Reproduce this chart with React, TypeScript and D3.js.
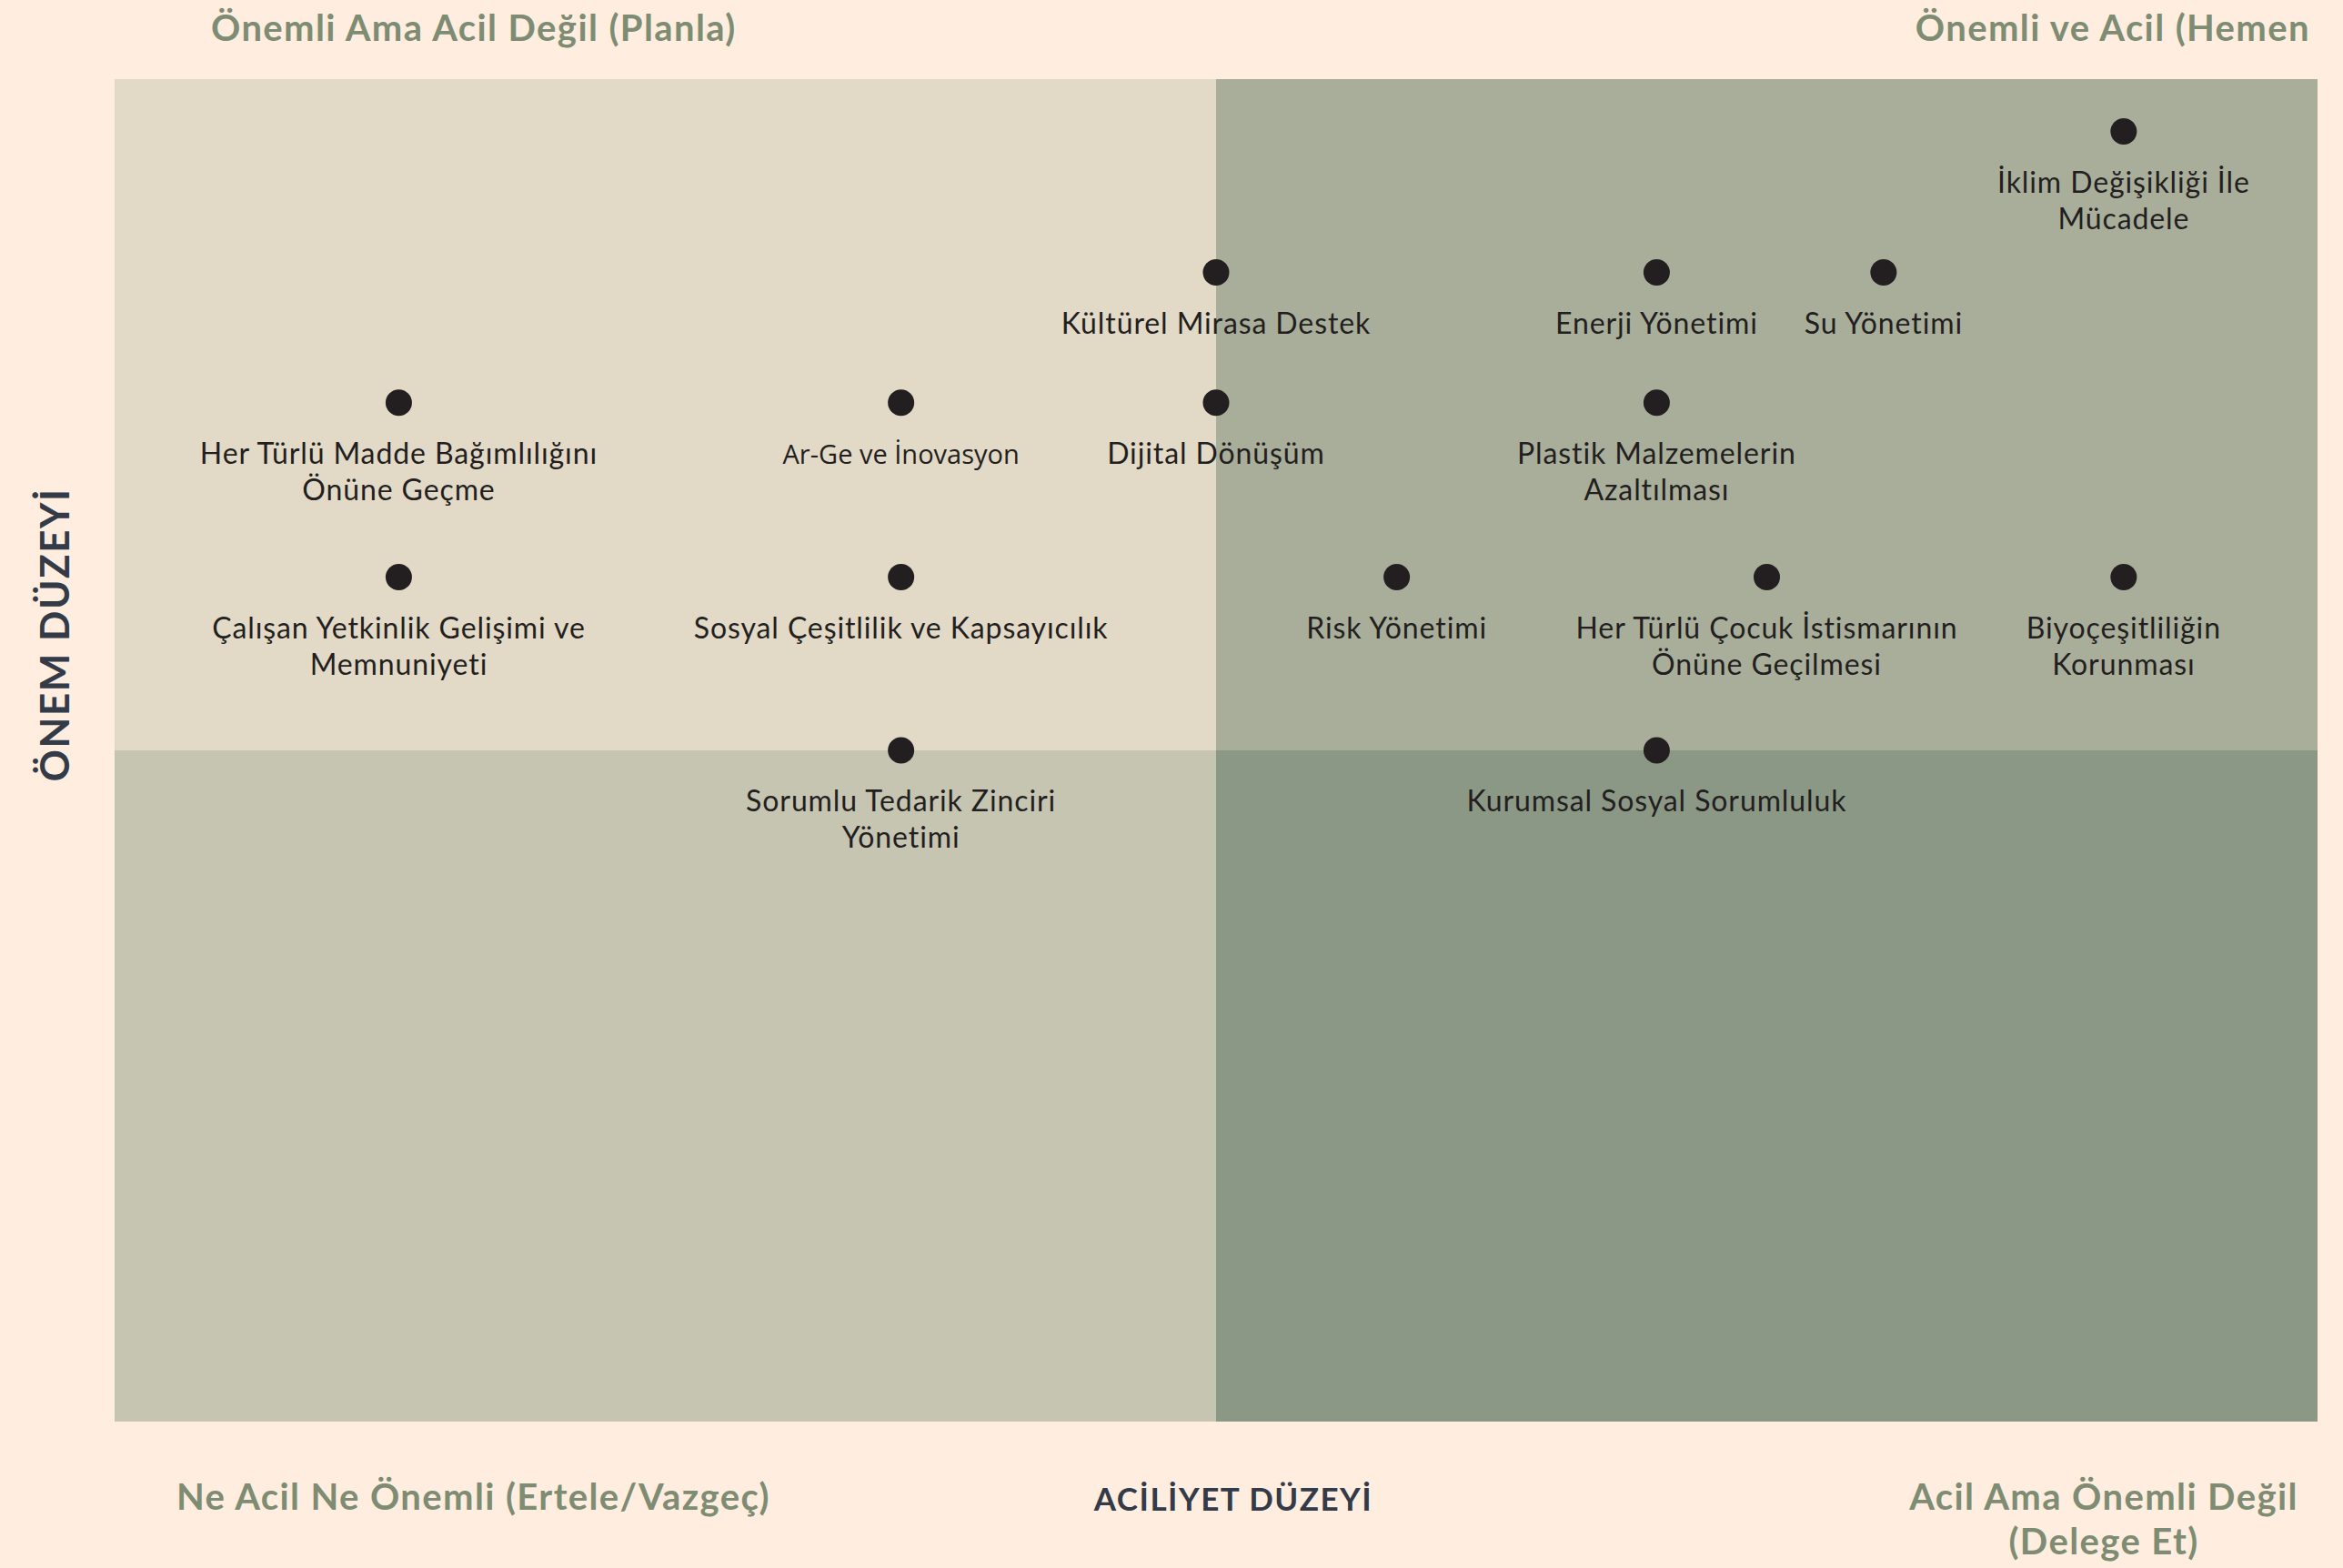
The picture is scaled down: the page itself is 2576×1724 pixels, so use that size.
import React, { useEffect, useRef } from "react";
import * as d3 from "d3";

// topic names (\n = line break), urgency (x) and importance (y) on a 0-10 scale
const topics = [
  "İklim Değişikliği İle\nMücadele",
  "Kültürel Mirasa Destek",
  "Enerji Yönetimi",
  "Su Yönetimi",
  "Her Türlü Madde Bağımlılığını\nÖnüne Geçme",
  "Ar-Ge ve İnovasyon",
  "Dijital Dönüşüm",
  "Plastik Malzemelerin\nAzaltılması",
  "Çalışan Yetkinlik Gelişimi ve\nMemnuniyeti",
  "Sosyal Çeşitlilik ve Kapsayıcılık",
  "Risk Yönetimi",
  "Her Türlü Çocuk İstismarının\nÖnüne Geçilmesi",
  "Biyoçeşitliliğin\nKorunması",
  "Sorumlu Tedarik Zinciri\nYönetimi",
  "Kurumsal Sosyal Sorumluluk",
];
const urgency = [9.12, 5.0, 7.0, 8.03, 1.29, 3.57, 5.0, 7.0, 1.29, 3.57, 5.82, 7.5, 9.12, 3.57, 7.0];
const importance = [9.61, 8.56, 8.56, 8.56, 7.59, 7.59, 7.59, 7.59, 6.29, 6.29, 6.29, 6.29, 6.29, 5.0, 5.0];

const quadrantTitles = {
  topLeft: "Önemli Ama Acil Değil (Planla)",
  topRight: "Önemli ve Acil (Hemen",
  bottomLeft: "Ne Acil Ne Önemli (Ertele/Vazgeç)",
  bottomRight: ["Acil Ama Önemli Değil", "(Delege Et)"],
};
const xTitle = "ACİLİYET DÜZEYİ";
const yTitle = "ÖNEM DÜZEYİ";

const W = 2576;
const H = 1724;
const margin = { top: 87, right: 28, bottom: 161, left: 126 };

const BG = "#FFEEDF";
const TITLE = "#7D8C72";
const AXIS = "#333A48";
const DOT = "#231F20";
const FONT = "Lato, 'Open Sans', sans-serif";

const App = () => {
  const ref = useRef<SVGSVGElement>(null);

  useEffect(() => {
    document.body.style.margin = "0";
    const svg = d3.select(ref.current);
    svg.selectAll("*").remove();

    const x = d3.scaleLinear().domain([0, 10]).range([margin.left, W - margin.right]);
    const y = d3.scaleLinear().domain([0, 10]).range([H - margin.bottom, margin.top]);

    svg.append("rect").attr("width", W).attr("height", H).attr("fill", BG);

    const quads = [
      { x0: 0, x1: 5, y0: 5, y1: 10, fill: "#E2D9C7" },
      { x0: 5, x1: 10, y0: 5, y1: 10, fill: "#A9AE9B" },
      { x0: 0, x1: 5, y0: 0, y1: 5, fill: "#C6C5B2" },
      { x0: 5, x1: 10, y0: 0, y1: 5, fill: "#8C9886" },
    ];
    svg
      .selectAll("rect.quad")
      .data(quads)
      .enter()
      .append("rect")
      .attr("class", "quad")
      .attr("x", (d) => x(d.x0))
      .attr("y", (d) => y(d.y1))
      .attr("width", (d) => x(d.x1) - x(d.x0))
      .attr("height", (d) => y(d.y0) - y(d.y1))
      .attr("fill", (d) => d.fill);

    // quadrant titles
    const title = (txt, tx, ty, anchor) =>
      svg
        .append("text")
        .attr("x", tx)
        .attr("y", ty)
        .attr("text-anchor", anchor)
        .attr("fill", TITLE)
        .style("font-family", FONT)
        .style("font-weight", "bold")
        .style("font-size", "40px")
        .style("letter-spacing", "1.4px")
        .text(txt);

    title(quadrantTitles.topLeft, 232, 45, "start");
    title(quadrantTitles.topRight, 2540, 45, "end");
    title(quadrantTitles.bottomLeft, 194, 1660, "start");
    title(quadrantTitles.bottomRight[0], 2313, 1660, "middle");
    title(quadrantTitles.bottomRight[1], 2313, 1709, "middle");

    svg
      .append("text")
      .attr("x", x(5) + 19)
      .attr("y", 1661)
      .attr("text-anchor", "middle")
      .attr("fill", AXIS)
      .style("font-family", FONT)
      .style("font-weight", "bold")
      .style("font-size", "35px")
      .style("letter-spacing", "1.5px")
      .text(xTitle);

    svg
      .append("text")
      .attr("transform", `translate(76, 698) rotate(-90)`)
      .attr("text-anchor", "middle")
      .attr("fill", AXIS)
      .style("font-family", FONT)
      .style("font-weight", "bold")
      .style("font-size", "44px")
      .style("letter-spacing", "1.5px")
      .text(yTitle);

    const data = topics.map((t, i) => ({ name: t, u: urgency[i], imp: importance[i] }));

    const g = svg
      .selectAll("g.topic")
      .data(data)
      .enter()
      .append("g")
      .attr("class", "topic")
      .attr("transform", (d) => `translate(${x(d.u)},${y(d.imp)})`);

    g.append("circle").attr("r", 14.5).attr("fill", DOT);

    // "Ar-Ge ve İnovasyon" is set in a smaller fallback face in the original
    const label = g
      .append("text")
      .attr("text-anchor", "middle")
      .attr("fill", DOT)
      .style("font-family", (d) => (d.name.startsWith("Ar-Ge") ? "'Open Sans', sans-serif" : FONT))
      .style("font-size", (d) => (d.name.startsWith("Ar-Ge") ? "29px" : "32px"))
      .style("letter-spacing", (d) => (d.name.startsWith("Ar-Ge") ? "0px" : "0.9px"));

    label
      .selectAll("tspan")
      .data((d) => d.name.split("\n"))
      .enter()
      .append("tspan")
      .attr("x", 0)
      .attr("y", (d, i) => 67 + i * 40)
      .text((d) => d);
  }, []);

  return (
    <div style={{ position: "absolute", left: 0, top: 0 }}>
      <svg ref={ref} width={W} height={H} style={{ display: "block" }}></svg>
    </div>
  );
};

export default App;
